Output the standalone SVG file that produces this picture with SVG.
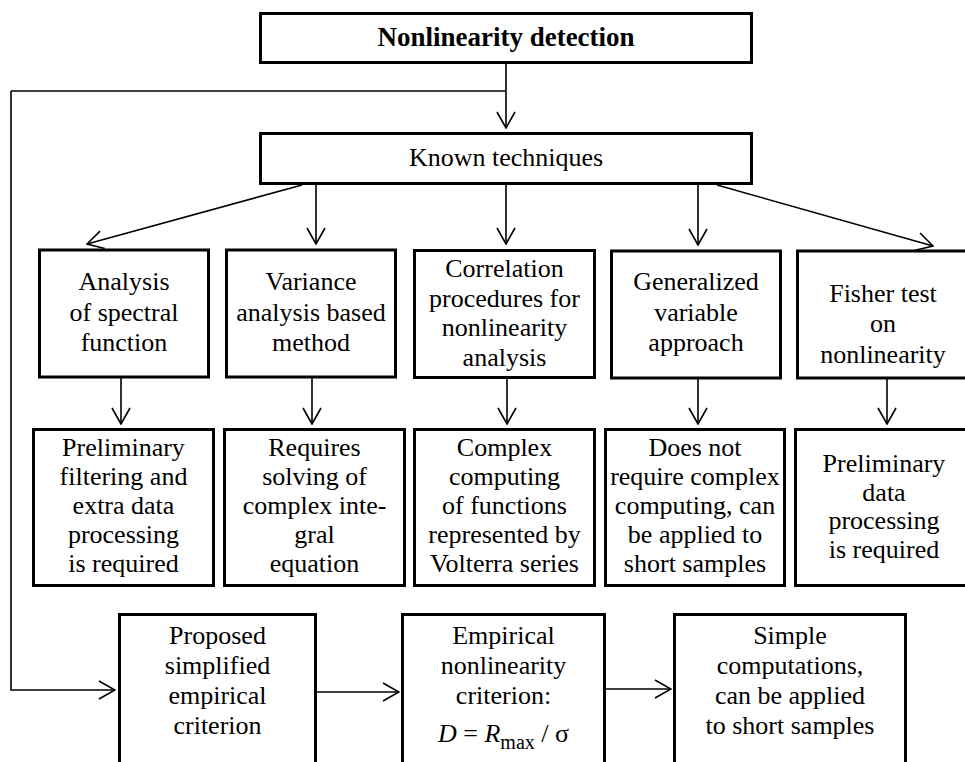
<svg xmlns="http://www.w3.org/2000/svg" width="965" height="762" viewBox="0 0 965 762">
  <style>
    .box { fill: #ffffff; stroke: #000000; stroke-width: 3; }
    .lbl { font-family: "Liberation Serif", "Times New Roman", serif; font-size: 26px; fill: #000000; text-anchor: middle; }
    .title { font-weight: bold; font-size: 27px; }
    .wire { fill: none; stroke: #000000; stroke-width: 1.6; }
    .arrow { fill: none; stroke: #000000; stroke-width: 1.6; marker-end: url(#head); }
  </style>
  <defs>
    <marker id="head" viewBox="0 0 18 20" refX="17" refY="10" markerWidth="18" markerHeight="20" markerUnits="userSpaceOnUse" orient="auto">
      <path d="M1,1 L17,10 L1,19" fill="none" stroke="#000000" stroke-width="1.6"/>
    </marker>
  </defs>

  <rect x="0" y="0" width="965" height="762" fill="#ffffff"/>

  <!-- connectors -->
  <g id="connectors">
    <path class="wire" d="M11,91 H506"/>
    <path class="arrow" d="M506,64 V128"/>
    <path class="arrow" d="M302,185 L87,244"/>
    <path class="arrow" d="M316,185 V244"/>
    <path class="arrow" d="M506,185 V244"/>
    <path class="arrow" d="M698,185 V245"/>
    <path class="arrow" d="M717,185 L933,246"/>
    <path class="arrow" d="M121,378 V424"/>
    <path class="arrow" d="M312,378 V424"/>
    <path class="arrow" d="M507,378 V424"/>
    <path class="arrow" d="M698,379 V424"/>
    <path class="arrow" d="M887,379 V424"/>
    <path class="arrow" d="M11,91 V690 H115"/>
    <path class="arrow" d="M317,692 H399"/>
    <path class="arrow" d="M606,689 H671"/>
  </g>

  <g id="nonlinearity-detection">
    <rect class="box" x="260.5" y="13.5" width="491" height="49"/>
    <text class="lbl title" x="506" y="46">Nonlinearity detection</text>
  </g>

  <g id="known-techniques">
    <rect class="box" x="260.5" y="133.5" width="491" height="50"/>
    <text class="lbl" x="506" y="166">Known techniques</text>
  </g>

  <!-- techniques -->
  <g id="spectral-analysis">
    <rect class="box" x="39.5" y="250" width="169" height="127"/>
    <text class="lbl" x="124" y="290">Analysis</text>
    <text class="lbl" x="124" y="320.5">of spectral</text>
    <text class="lbl" x="124" y="351">function</text>
  </g>

  <g id="variance-analysis">
    <rect class="box" x="226.5" y="250" width="169" height="127"/>
    <text class="lbl" x="311" y="290">Variance</text>
    <text class="lbl" x="311" y="320.5">analysis based</text>
    <text class="lbl" x="311" y="351">method</text>
  </g>

  <g id="correlation-procedures">
    <rect class="box" x="414.5" y="250.5" width="180" height="127"/>
    <text class="lbl" x="504.5" y="277">Correlation</text>
    <text class="lbl" x="504.5" y="306.5">procedures for</text>
    <text class="lbl" x="504.5" y="336">nonlinearity</text>
    <text class="lbl" x="504.5" y="365.5">analysis</text>
  </g>

  <g id="generalized-variable">
    <rect class="box" x="611.5" y="251" width="169" height="127"/>
    <text class="lbl" x="696" y="290">Generalized</text>
    <text class="lbl" x="696" y="320.5">variable</text>
    <text class="lbl" x="696" y="351">approach</text>
  </g>

  <g id="fisher-test">
    <rect class="box" x="797.5" y="251" width="180" height="127"/>
    <text class="lbl" x="883" y="302">Fisher test</text>
    <text class="lbl" x="883" y="332">on</text>
    <text class="lbl" x="883" y="363">nonlinearity</text>
  </g>

  <!-- drawbacks / properties -->
  <g id="spectral-drawback">
    <rect class="box" x="33.5" y="429.5" width="180" height="156"/>
    <text class="lbl" x="123.5" y="456">Preliminary</text>
    <text class="lbl" x="123.5" y="485">filtering and</text>
    <text class="lbl" x="123.5" y="514">extra data</text>
    <text class="lbl" x="123.5" y="543">processing</text>
    <text class="lbl" x="123.5" y="572">is required</text>
  </g>

  <g id="variance-drawback">
    <rect class="box" x="224.5" y="429.5" width="180" height="156"/>
    <text class="lbl" x="314.5" y="456">Requires</text>
    <text class="lbl" x="314.5" y="485">solving of</text>
    <text class="lbl" x="314.5" y="514">complex inte-</text>
    <text class="lbl" x="314.5" y="543">gral</text>
    <text class="lbl" x="314.5" y="572">equation</text>
  </g>

  <g id="correlation-drawback">
    <rect class="box" x="414.5" y="429.5" width="180" height="156"/>
    <text class="lbl" x="504.5" y="456">Complex</text>
    <text class="lbl" x="504.5" y="485">computing</text>
    <text class="lbl" x="504.5" y="514">of functions</text>
    <text class="lbl" x="504.5" y="543">represented by</text>
    <text class="lbl" x="504.5" y="572">Volterra series</text>
  </g>

  <g id="generalized-property">
    <rect class="box" x="605.5" y="429.5" width="179" height="156"/>
    <text class="lbl" x="695" y="456">Does not</text>
    <text class="lbl" x="695" y="485">require complex</text>
    <text class="lbl" x="695" y="514">computing, can</text>
    <text class="lbl" x="695" y="543">be applied to</text>
    <text class="lbl" x="695" y="572">short samples</text>
  </g>

  <g id="fisher-drawback">
    <rect class="box" x="795.5" y="429.5" width="180" height="156"/>
    <text class="lbl" x="884" y="472">Preliminary</text>
    <text class="lbl" x="884" y="500.5">data</text>
    <text class="lbl" x="884" y="529">processing</text>
    <text class="lbl" x="884" y="558">is required</text>
  </g>

  <!-- proposed approach -->
  <g id="proposed-criterion">
    <rect class="box" x="119.5" y="614.5" width="196" height="170"/>
    <text class="lbl" x="217.5" y="644">Proposed</text>
    <text class="lbl" x="217.5" y="674">simplified</text>
    <text class="lbl" x="217.5" y="704">empirical</text>
    <text class="lbl" x="217.5" y="734">criterion</text>
  </g>

  <g id="empirical-criterion">
    <rect class="box" x="402.5" y="614.5" width="202" height="170"/>
    <text class="lbl" x="503.5" y="644">Empirical</text>
    <text class="lbl" x="503.5" y="674">nonlinearity</text>
    <text class="lbl" x="503.5" y="704">criterion:</text>
    <text class="lbl" x="503.5" y="742" font-size="27"><tspan font-style="italic">D</tspan> = <tspan font-style="italic">R</tspan><tspan font-size="20" dy="7">max</tspan><tspan dy="-7"> / σ</tspan></text>
  </g>

  <g id="simple-computations">
    <rect class="box" x="674.5" y="614.5" width="231" height="170"/>
    <text class="lbl" x="790" y="644">Simple</text>
    <text class="lbl" x="790" y="674">computations,</text>
    <text class="lbl" x="790" y="704">can be applied</text>
    <text class="lbl" x="790" y="734">to short samples</text>
  </g>
</svg>
